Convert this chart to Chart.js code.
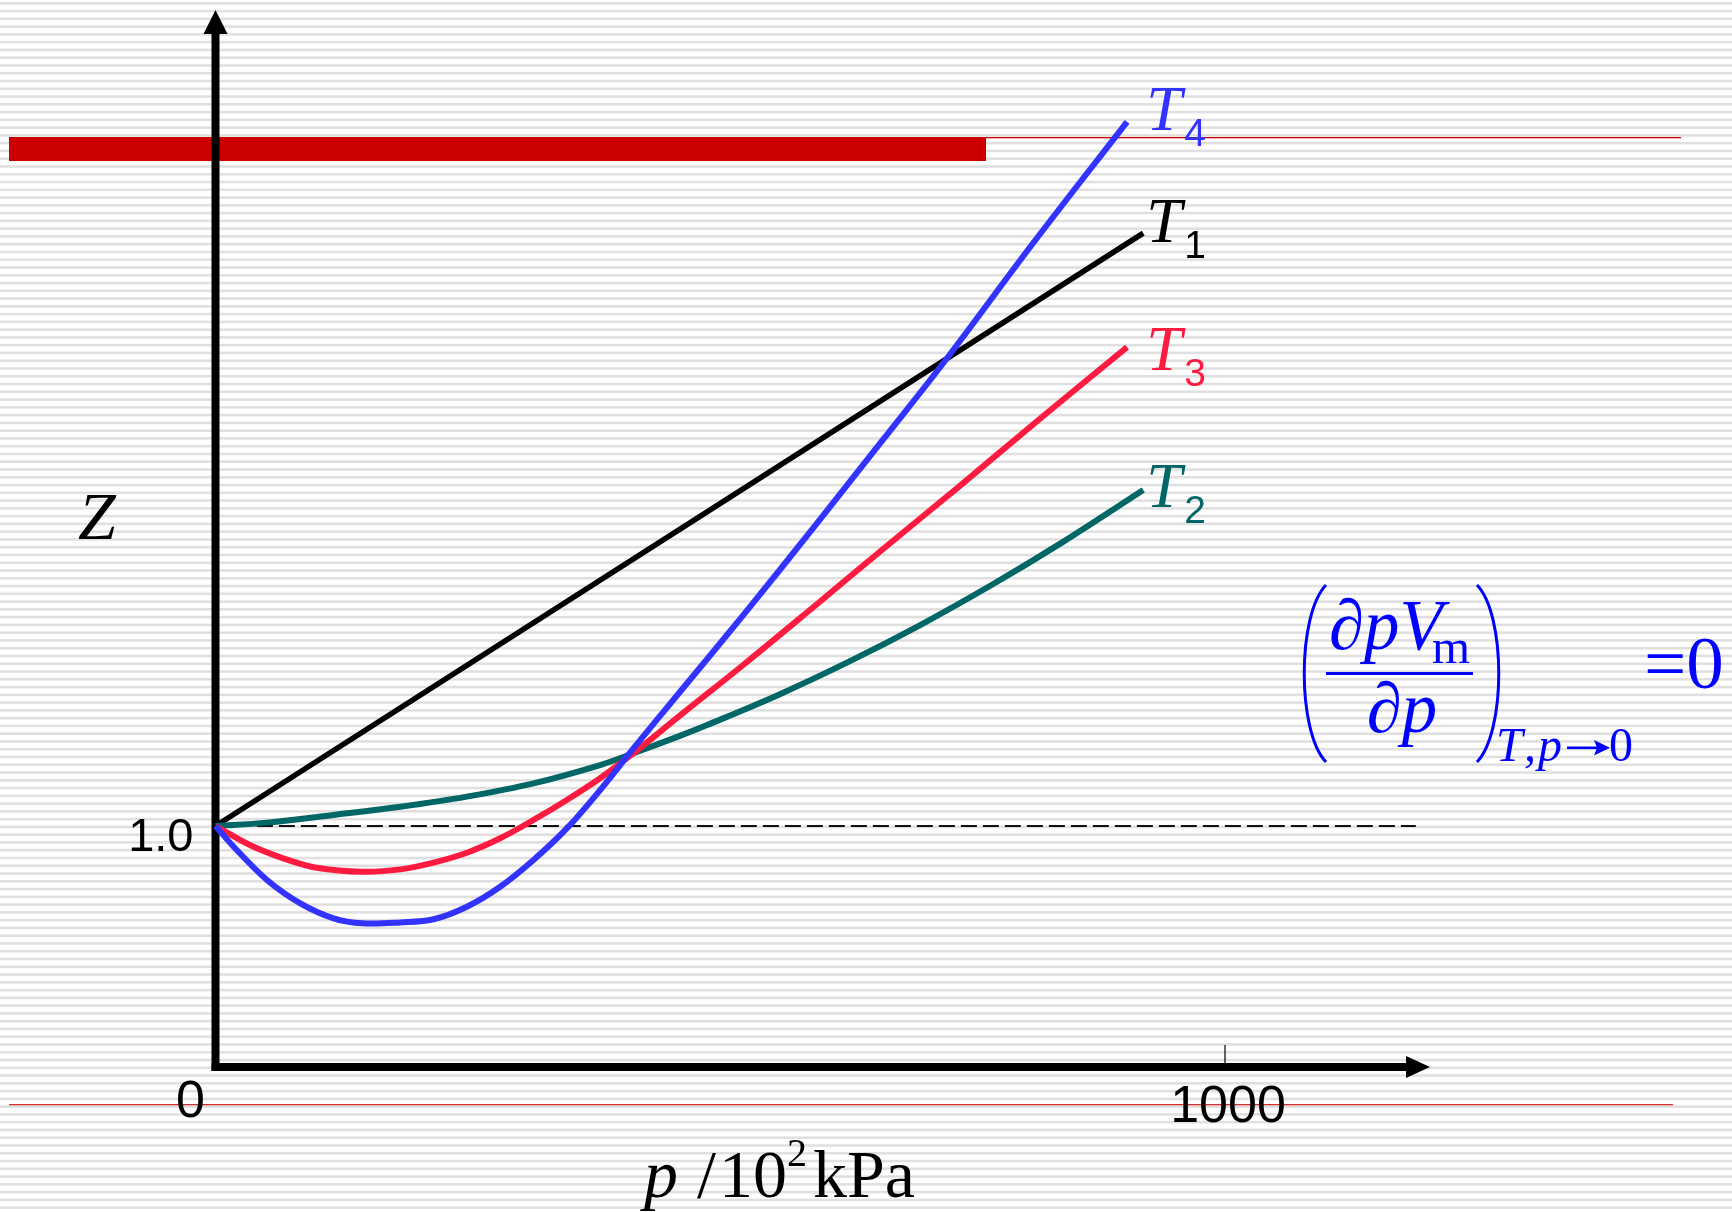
<!DOCTYPE html>
<html>
<head>
<meta charset="utf-8">
<script src="https://cdn.jsdelivr.net/npm/chart.js@4.4.1/dist/chart.umd.min.js"></script>
<style>
html,body{margin:0;padding:0;background:#fff;overflow:hidden}
#wrap{position:relative;width:1732px;height:1212px}
</style>
</head>
<body>
<div id="wrap"><canvas id="c"></canvas></div>
<script>
// ---------- data ----------
const xTickValues = [0, 1000];
const xTickLabels = ['0', '1000'];
const yTickValues = [1];
const yTickLabels = ['1.0'];

// p / 10^2 kPa  and  Z for each temperature
const t1P = [0, 919];
const t1Z = [1.0, 3.46];

const t2P = [0, 51, 117, 183, 249, 315, 381, 414, 460, 487, 558, 628, 699, 770, 840, 919];
const t2Z = [1.0, 1.014, 1.046, 1.080, 1.122, 1.177, 1.253, 1.302, 1.374, 1.419, 1.545, 1.683, 1.836, 2.003, 2.180, 2.394];

const t3P = [0, 34, 67, 100, 146, 183, 216, 249, 282, 315, 348, 381, 414, 460, 523, 593, 664, 735, 817, 903];
const t3Z = [1.0, 0.921, 0.866, 0.827, 0.810, 0.820, 0.848, 0.889, 0.949, 1.025, 1.108, 1.198, 1.302, 1.458, 1.669, 1.911, 2.159, 2.403, 2.691, 2.987];

const t4P = [0, 18, 51, 84, 117, 146, 183, 216, 249, 282, 315, 348, 381, 414, 460, 523, 593, 661, 721, 810, 903];
const t4Z = [1.0, 0.914, 0.776, 0.679, 0.617, 0.596, 0.600, 0.613, 0.665, 0.748, 0.859, 0.990, 1.149, 1.322, 1.556, 1.876, 2.241, 2.602, 2.921, 3.419, 3.922];

// ideal-gas reference Z = 1
const refP = [41, 1189];
const refZ = [1, 1];

// ---------- styling ----------
const COLORS = { t1: '#000000', t2: '#006666', t3: '#ff1a40', t4: '#3333ff', formula: '#0000ff' };
const SERIF = '"Liberation Serif", "Times New Roman", serif';
const SANS = '"Liberation Sans", Arial, sans-serif';

// curve labels (value-space anchor for baseline)
const labelAnchors = [
  { sub: '4', color: COLORS.t4, z: 3.888 },
  { sub: '1', color: COLORS.t1, z: 3.423 },
  { sub: '3', color: COLORS.t3, z: 2.892 },
  { sub: '2', color: COLORS.t2, z: 2.324 }
];
const labelP = 925;

const toPts = (xs, ys) => xs.map((x, i) => ({ x: x, y: ys[i] }));

const deco = {
  id: 'deco',
  beforeDraw(chart) {
    const ctx = chart.ctx, W = chart.width, H = chart.height;
    ctx.save();
    ctx.fillStyle = '#ffffff';
    ctx.fillRect(0, 0, W, H);
    ctx.fillStyle = 'rgb(224,224,224)';
    for (let y = 3.3 - 1.3; y < H; y += 7.77) ctx.fillRect(0, y, W, 2.6);
    // red title bar & rule lines
    ctx.fillStyle = '#cc0000';
    ctx.fillRect(9, 137, 977, 24);
    ctx.fillRect(986, 137, 695, 1.3);
    ctx.fillStyle = '#d03030';
    ctx.fillRect(9, 1104, 1664, 1.3);
    ctx.restore();
  },
  beforeDatasetsDraw(chart) {
    const ctx = chart.ctx;
    const xs = chart.scales.x, ys = chart.scales.y;
    const X0 = xs.getPixelForValue(0), Y0 = ys.getPixelForValue(0);
    ctx.save();
    ctx.fillStyle = '#000';
    // y axis
    ctx.fillRect(X0 - 4, 32, 8, Y0 + 4 - 32);
    ctx.beginPath();
    ctx.moveTo(X0, 10); ctx.lineTo(X0 - 12, 34); ctx.lineTo(X0 + 12, 34); ctx.closePath(); ctx.fill();
    // x axis
    const xEnd = 1430;
    ctx.fillRect(X0 - 4, Y0 - 4, xEnd - 22 - (X0 - 4), 8);
    ctx.beginPath();
    ctx.moveTo(xEnd, Y0); ctx.lineTo(xEnd - 24, Y0 - 11); ctx.lineTo(xEnd - 24, Y0 + 11); ctx.closePath(); ctx.fill();
    // tick at 1000
    const xt = xs.getPixelForValue(xTickValues[1]);
    ctx.fillRect(xt - 0.6, Y0 - 22, 1.2, 18);
    ctx.restore();
  },
  afterDatasetsDraw(chart) {
    const ctx = chart.ctx;
    const xs = chart.scales.x, ys = chart.scales.y;
    const X0 = xs.getPixelForValue(0);
    ctx.save();
    ctx.textBaseline = 'alphabetic';
    ctx.fillStyle = '#000';
    // tick labels
    ctx.font = '52px ' + SANS;
    ctx.textAlign = 'center';
    ctx.fillText(xTickLabels[0], xs.getPixelForValue(xTickValues[0]) - 25, 1117);
    ctx.fillText(xTickLabels[1], xs.getPixelForValue(xTickValues[1]) + 3, 1122);
    ctx.font = '47px ' + SANS;
    ctx.textAlign = 'right';
    ctx.fillText(yTickLabels[0], X0 - 22, ys.getPixelForValue(yTickValues[0]) + 25);
    // Z axis title
    ctx.textAlign = 'left';
    ctx.font = 'italic 68px ' + SERIF;
    ctx.fillText('Z', 78, 539);
    // x axis title  p / 10^2 kPa
    const base = 1197;
    ctx.font = 'italic 68px ' + SERIF;
    ctx.fillText('p', 644, base);
    ctx.font = '68px ' + SERIF;
    ctx.fillText('/', 697, base);
    ctx.fillText('10', 719, base);
    ctx.font = '40px ' + SERIF;
    ctx.fillText('2', 787, base - 31);
    ctx.font = '68px ' + SERIF;
    ctx.fillText('kPa', 813, base);
    // curve labels
    const lx = xs.getPixelForValue(labelP);
    labelAnchors.forEach(l => {
      const by = ys.getPixelForValue(l.z);
      ctx.fillStyle = l.color;
      ctx.font = 'italic 64px ' + SERIF;
      ctx.fillText('T', lx - 3, by);
      ctx.font = '39px ' + SANS;
      ctx.fillText(l.sub, lx + 35, by + 16);
    });
    // formula (∂pVm/∂p)_{T,p→0} = 0
    ctx.fillStyle = COLORS.formula;
    ctx.strokeStyle = COLORS.formula;
    ctx.font = 'italic 71px ' + SERIF;
    ctx.fillText('\u2202pV', 1329, 649);
    ctx.font = '49px ' + SERIF;
    ctx.fillText('m', 1432, 663);
    ctx.fillRect(1326, 672, 147, 3);
    ctx.font = 'italic 71px ' + SERIF;
    ctx.textAlign = 'center';
    ctx.fillText('\u2202p', 1402, 732);
    ctx.textAlign = 'left';
    ctx.lineWidth = 3;
    ctx.beginPath();
    ctx.moveTo(1326, 585); ctx.bezierCurveTo(1297, 615, 1297, 732, 1326, 762);
    ctx.stroke();
    ctx.beginPath();
    ctx.moveTo(1477, 585); ctx.bezierCurveTo(1506, 615, 1506, 732, 1477, 762);
    ctx.stroke();
    ctx.font = 'italic 48px ' + SERIF;
    ctx.fillText('T', 1496, 761);
    ctx.fillText(',', 1524, 761);
    ctx.fillText('p', 1538, 761);
    // long arrow
    ctx.fillRect(1567, 746.5, 30, 2.6);
    ctx.beginPath();
    ctx.moveTo(1610, 747.8); ctx.lineTo(1594, 740); ctx.lineTo(1597, 747.8); ctx.lineTo(1594, 755.6); ctx.closePath(); ctx.fill();
    ctx.font = '48px ' + SERIF;
    ctx.fillText('0', 1609, 761);
    ctx.font = '75px ' + SERIF;
    ctx.fillText('=0', 1644, 688);
    ctx.restore();
  }
};

const lineDs = (label, xs, ys, color, extra) => Object.assign({
  label: label,
  data: toPts(xs, ys),
  borderColor: color,
  backgroundColor: color,
  borderWidth: 6,
  pointRadius: 0,
  fill: false,
  tension: 0.35,
  clip: false,
  borderCapStyle: 'butt',
  borderJoinStyle: 'round'
}, extra || {});

new Chart(document.getElementById('c'), {
  type: 'line',
  data: {
    datasets: [
      lineDs('T4', t4P, t4Z, COLORS.t4),
      lineDs('T3', t3P, t3Z, COLORS.t3),
      lineDs('T2', t2P, t2Z, COLORS.t2),
      lineDs('T1', t1P, t1Z, COLORS.t1, { borderWidth: 5.5, tension: 0 }),
      lineDs('Z=1', refP, refZ, '#111', { borderWidth: 2, borderDash: [16, 6], tension: 0 })
    ]
  },
  options: {
    responsive: true,
    maintainAspectRatio: false,
    animation: false,
    events: [],
    layout: { padding: { left: 215.5, right: 507, top: 103, bottom: 145 } },
    scales: {
      x: { type: 'linear', min: 0, max: 1000, display: false },
      y: { type: 'linear', min: 0, max: 4, display: false }
    },
    plugins: { legend: { display: false }, tooltip: { enabled: false }, title: { display: false } }
  },
  plugins: [deco]
});
</script>
</body>
</html>
